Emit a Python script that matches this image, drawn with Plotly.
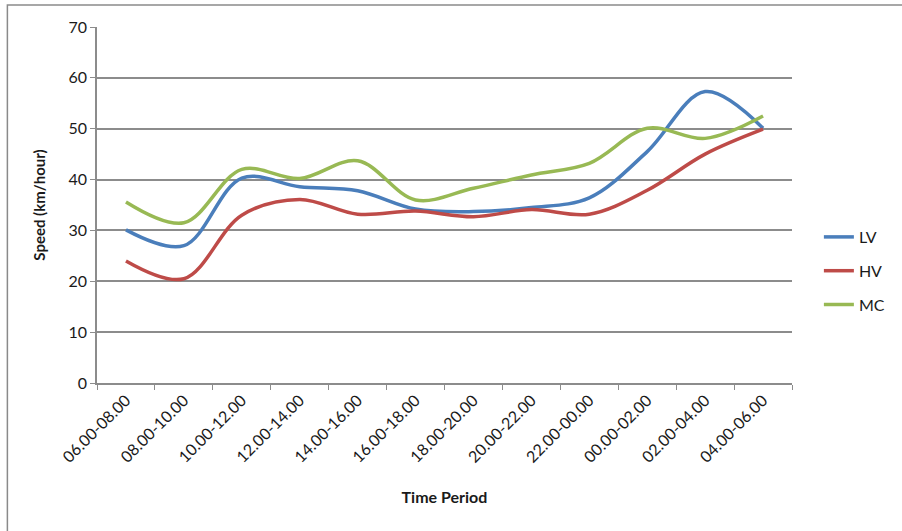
import plotly.graph_objects as go

periods = ["06.00-08.00", "08.00-10.00", "10.00-12.00", "12.00-14.00",
           "14.00-16.00", "16.00-18.00", "18.00-20.00", "20.00-22.00",
           "22.00-00.00", "00.00-02.00", "02.00-04.00", "04.00-06.00"]

lv = [30.1, 27.0, 40.3, 38.6, 37.8, 34.2, 33.7, 34.5, 36.4, 45.5, 57.3, 50.1]
hv = [24.0, 20.5, 33.0, 36.1, 33.2, 33.8, 32.7, 34.1, 33.2, 37.9, 45.0, 49.9]
mc = [35.6, 31.5, 42.0, 40.2, 43.7, 36.0, 38.3, 40.9, 43.2, 50.1, 48.1, 52.5]

series = [("LV", lv, "#4A7EBB"), ("HV", hv, "#BE4B48"), ("MC", mc, "#98B954")]

FONT = "Lato"
GRID = "#8C8C8C"
TXT = "#1a1a1a"

fig = go.Figure()
for name, vals, color in series:
    fig.add_trace(go.Scatter(
        x=periods, y=vals, name=name, mode="lines", legendgroup=name,
        line=dict(color=color, width=3.5, shape="spline", smoothing=1.0),
    ))

W, H = 902, 531
L, R, T, B = 97, 107, 27, 148
pw, ph = W - L - R, H - T - B

fig.update_layout(
    width=W, height=H,
    margin=dict(l=L, r=R, t=T, b=B),
    paper_bgcolor="white", plot_bgcolor="white",
    font=dict(family=FONT, size=16, color=TXT),
    showlegend=True,
    legend=dict(
        x=(822 - L) / pw, y=(383 - 220) / ph, xanchor="left", yanchor="top",
        font=dict(family=FONT, size=16, color=TXT),
        tracegroupgap=10, bgcolor="rgba(0,0,0,0)",
    ),
    xaxis=dict(
        range=[-0.5, len(periods) - 0.5],
        tickangle=-45, tickson="boundaries", ticks="outside", ticklen=5,
        tickcolor=GRID, showline=True, linecolor=GRID, linewidth=1.5,
        showgrid=False, tickfont=dict(family=FONT, size=16, color=TXT),
        title=dict(text="<b>Time Period</b>", font=dict(family=FONT, size=16, color=TXT), standoff=27),
    ),
    yaxis=dict(
        range=[0, 70], dtick=10, ticks="outside", ticklen=5, tickcolor=GRID,
        showline=True, linecolor=GRID, linewidth=1.5,
        showgrid=True, gridcolor=GRID, gridwidth=1.5, zeroline=False,
        tickfont=dict(family=FONT, size=16, color=TXT),
        title=dict(text="<b>Speed (km/hour)</b>", font=dict(family=FONT, size=15, color=TXT), standoff=19),
    ),
    shapes=[dict(
        type="rect", xref="paper", yref="paper",
        x0=(7 - L) / pw, x1=(W + 10 - L) / pw,
        y0=(383 - (H + 10)) / ph, y1=(383 - 5) / ph,
        line=dict(color="#8A8A8A", width=1.5), fillcolor="rgba(0,0,0,0)", layer="below",
    )],
)

fig.write_html("out.html")
